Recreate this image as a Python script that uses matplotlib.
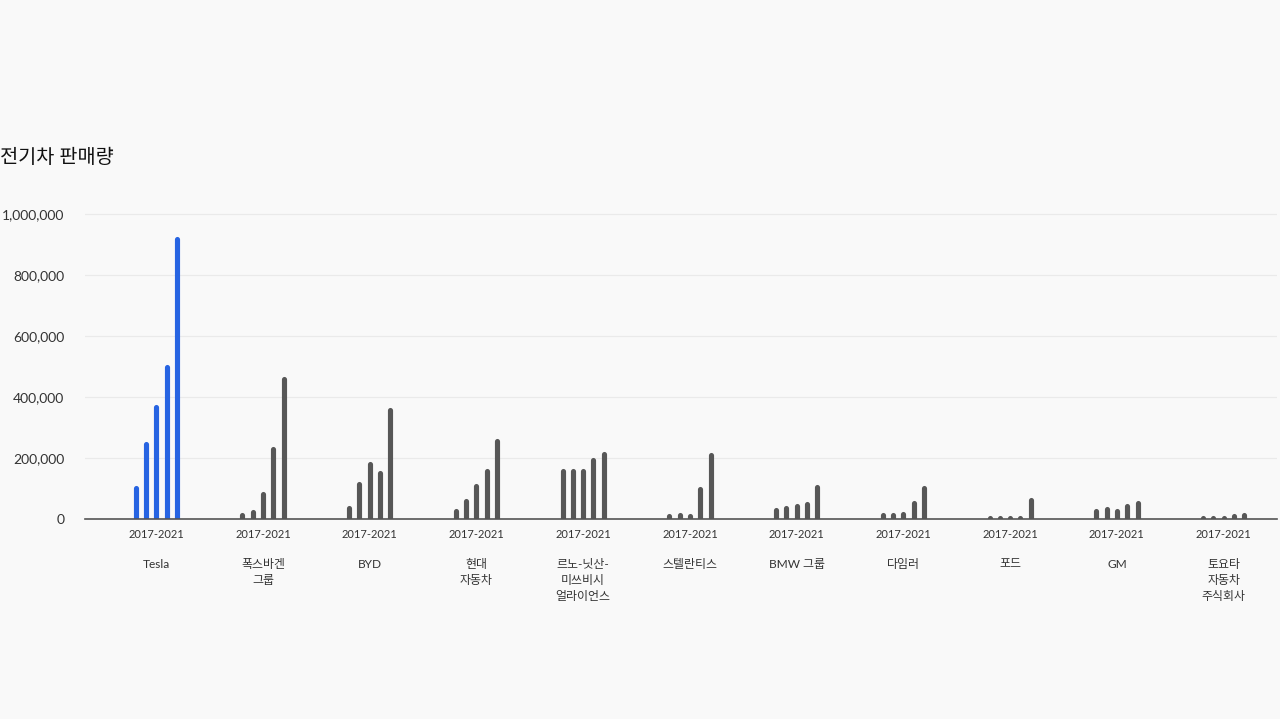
import matplotlib
matplotlib.use("Agg")
import matplotlib.pyplot as plt
import numpy as np
from matplotlib.ticker import FuncFormatter

plt.rcParams['font.family'] = ['Lato', 'Noto Sans CJK KR', 'DejaVu Sans']

companies = ["Tesla", "폭스바겐\n그룹", "BYD", "현대\n자동차", "르노-닛산-\n미쓰비시\n얼라이언스",
             "스텔란티스", "BMW 그룹", "다임러", "포드", "GM", "토요타\n자동차\n주식회사"]
period_label = "2017-2021"
years = [2017, 2018, 2019, 2020, 2021]
sales = [
    [103000, 245000, 367000, 500000, 918000],   # Tesla
    [13000, 22000, 82000, 230000, 460000],      # VW
    [36000, 115000, 180000, 150000, 357000],    # BYD
    [25000, 60000, 108000, 157000, 255000],     # Hyundai
    [156000, 156000, 156000, 194000, 212000],   # Renault-Nissan-Mitsubishi
    [10000, 14000, 10000, 97000, 210000],       # Stellantis
    [31000, 37000, 41000, 49000, 105000],       # BMW
    [14000, 14000, 18000, 53000, 101000],       # Daimler
    [3000, 3000, 3000, 3000, 63000],            # Ford
    [27000, 34000, 26000, 41000, 53000],        # GM
    [3000, 3000, 3000, 10000, 14000],           # Toyota
]
yticks = [0, 200000, 400000, 600000, 800000, 1000000]
title = "전기차 판매량"

bg = "#f9f9f9"
fig = plt.figure(figsize=(12.8, 7.19), dpi=100, facecolor=bg)
ax = fig.add_axes([85/1280, 1-519/719, (1277-85)/1280, 308/719])
ax.set_facecolor(bg)

offs = (np.arange(len(years)) - 2) * 0.0966
for i, vals in enumerate(sales):
    color = "#2764e2" if i == 0 else "#575757"
    xs = i + offs
    ax.vlines(xs, 0, vals, colors=color, linewidth=3.7, capstyle='round', zorder=3)

ax.set_xlim(-0.667, 10.5)
ax.set_ylim(0, 1010000)
ax.set_yticks(yticks)
ax.yaxis.set_major_formatter(FuncFormatter(lambda v, p: f"{int(v):,}"))
ax.grid(axis='y', color="#eaeaea", linewidth=0.9, zorder=0)
ax.set_axisbelow(True)
for s in ['top', 'right', 'left']:
    ax.spines[s].set_visible(False)
ax.spines['bottom'].set_color("#555555")
ax.spines['bottom'].set_linewidth(1.2)
ax.spines['bottom'].set_zorder(4)
ax.tick_params(axis='y', length=0, pad=15, labelsize=10, labelcolor="#333333")
ax.set_xticks(range(len(companies)))
ax.set_xticklabels([period_label] * len(companies))
ax.tick_params(axis='x', length=0, pad=7, labelsize=8.0, labelcolor="#333333")

for i, name in enumerate(companies):
    ax.annotate(name, xy=(i, 0), xycoords='data', xytext=(0, -28.5), textcoords='offset points',
                ha='center', va='top', fontsize=8.6, color="#333333", linespacing=1.6)

fig.text(0, 1-157/719, title, ha='left', va='center', fontsize=14.2, color="#111111")

fig.savefig("out.png", dpi=100, facecolor=bg)
